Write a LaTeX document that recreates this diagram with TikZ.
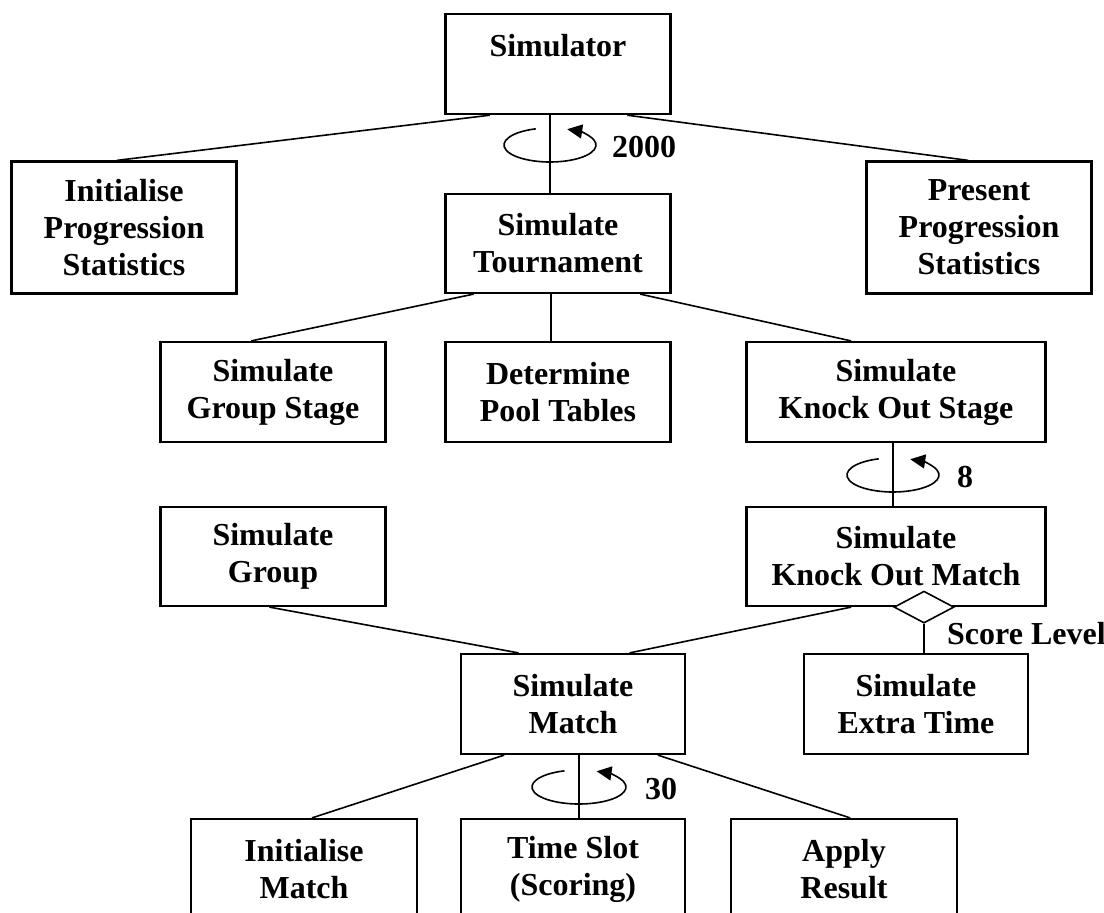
\documentclass[tikz,border=0pt]{standalone}
\usepackage{fontspec}
\setmainfont{Liberation Serif}
\usetikzlibrary{arrows.meta,calc,shapes.geometric}

\tikzset{
  box/.style={draw, line width=2.2pt, minimum width=225pt, minimum height=100pt,
    inner sep=0pt, align=center, font=\bfseries\fontsize{32}{37}\selectfont},
  link/.style={line width=1.6pt},
  repeatarc/.style={line width=1.6pt, -{Triangle[length=15pt,width=14pt]}},
  looplabel/.style={inner sep=0pt, font=\bfseries\fontsize{32}{37}\selectfont}
}

\begin{document}
\begin{tikzpicture}[x=1pt,y=-1pt]
\useasboundingbox (0,0) rectangle (1104,913);
\clip (0,0) rectangle (1104,913);

% boxes
\node[box, anchor=north, text height=42pt, text depth=57pt] (simr) at (558,13) {Simulator};
\node[box, minimum height=132pt] (init) at (124,227.5) {Initialise\\Progression\\Statistics};
\node[box, minimum height=99pt] (tour) at (558,243.5) {Simulate\\Tournament};
\node[box, minimum height=132pt] (pres) at (979,227.5) {Present\\Progression\\Statistics};
\node[box] (gstage) at (273,392) {Simulate\\Group Stage};
\node[box] (pool) at (558,392) {Determine\\Pool Tables};
\node[box, minimum width=299pt] (kostage) at (896,392) {Simulate\\Knock Out Stage};
\node[box, minimum height=99pt] (group) at (273,556.5) {Simulate\\Group};
\node[box, minimum width=299pt, minimum height=99pt] (komatch) at (896,556.5) {Simulate\\Knock Out Match};
\node[box, minimum width=224pt] (match) at (573,704) {Simulate\\Match};
\node[box, minimum width=224pt] (extra) at (916,704) {Simulate\\Extra Time};
\node[box, minimum width=226pt] (imatch) at (304,869) {Initialise\\Match};
\node[box, minimum width=224pt] (slot) at (573,869) {Time Slot\\(Scoring)};
\node[box, minimum width=226pt] (apply) at (844,869) {Apply\\Result};

% connectors
\draw[link] ($(simr.south west)!0.2!(simr.south east)$) -- ($(init.north west)!0.468!(init.north east)$);
\draw[link] ([xshift=-8pt]simr.south) -- ([xshift=-8pt]tour.north);
\draw[link] ($(simr.south west)!0.805!(simr.south east)$) -- ($(pres.north west)!0.453!(pres.north east)$);
\draw[link] ($(tour.south west)!0.129!(tour.south east)$) -- ($(gstage.north west)!0.404!(gstage.north east)$);
\draw[link] ([xshift=-7pt]tour.south) -- ([xshift=-7pt]pool.north);
\draw[link] ($(tour.south west)!0.862!(tour.south east)$) -- ($(kostage.north west)!0.351!(kostage.north east)$);
\draw[link] ([xshift=-3pt]kostage.south) -- ([xshift=-3pt]komatch.north);
\draw[link] ($(group.south west)!0.484!(group.south east)$) -- ($(match.north west)!0.259!(match.north east)$);
\draw[link] ($(komatch.south west)!0.351!(komatch.south east)$) -- ($(match.north west)!0.75!(match.north east)$);
\draw[link] ($(match.south west)!0.196!(match.south east)$) -- ($(imatch.north west)!0.535!(imatch.north east)$);
\draw[link] ([xshift=6pt]match.south) -- ([xshift=6pt]slot.north);
\draw[link] ($(match.south west)!0.875!(match.south east)$) -- ($(apply.north west)!0.527!(apply.north east)$);

% selection diamond
\node[draw, diamond, line width=1.6pt, fill=white, minimum width=60pt, minimum height=32pt,
  inner sep=0pt] (kodia) at ([xshift=28pt]komatch.south) {};
\draw[link] (kodia.south) -- (kodia.south |- extra.north);
\node[looplabel, anchor=west] (scorelvl) at (947,634) {Score Level};

% iterations
\coordinate (tourloop) at (550,145);
\coordinate (koloop) at (893,475);
\coordinate (matchloop) at (579,787);
\draw[repeatarc] ([shift={(252:46 and 17)}]tourloop) arc[start angle=252, end angle=-68, x radius=46, y radius=17];
\draw[repeatarc] ([shift={(252:46 and 17)}]koloop) arc[start angle=252, end angle=-68, x radius=46, y radius=17];
\draw[repeatarc] ([shift={(252:47 and 17)}]matchloop) arc[start angle=252, end angle=-68, x radius=47, y radius=17];
\node[looplabel] (tourcount) at (644,147) {2000};
\node[looplabel] (kocount) at (965,477) {8};
\node[looplabel] (matchcount) at (661,789) {30};
\end{tikzpicture}
\end{document}
